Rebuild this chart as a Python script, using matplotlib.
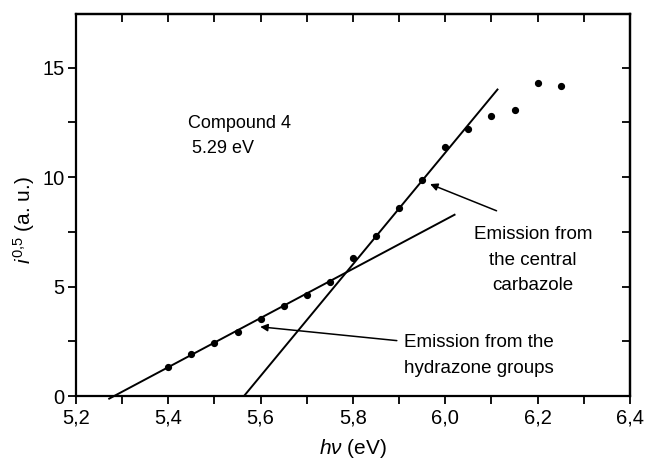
import numpy as np
import matplotlib
matplotlib.use("Agg")
import matplotlib.pyplot as plt
from matplotlib.ticker import MultipleLocator, FuncFormatter

plt.rcParams['font.family'] = ['Liberation Sans', 'DejaVu Sans']
plt.rcParams['mathtext.fontset'] = 'custom'
plt.rcParams['mathtext.rm'] = 'Liberation Sans'
plt.rcParams['mathtext.it'] = 'Liberation Sans:italic'

# measured points
energy = [5.40, 5.45, 5.50, 5.55, 5.60, 5.65, 5.70, 5.75, 5.80,
          5.85, 5.90, 5.95, 6.00, 6.05, 6.10, 6.15, 6.20, 6.25]
signal = [1.31, 1.90, 2.41, 2.91, 3.50, 4.10, 4.60, 5.19, 6.29,
          7.29, 8.58, 9.86, 11.37, 12.18, 12.77, 13.07, 14.28, 14.16]

# the two fitted straight lines (end points)
fit_hyd_x = [5.272, 6.02]
fit_hyd_y = [-0.12, 8.28]
fit_carb_x = [5.564, 6.113]
fit_carb_y = [0.0, 14.0]

fig = plt.figure(figsize=(6.46, 4.63), dpi=100)
ax = fig.add_axes([0.1176, 0.1447, 0.8576, 0.8251])

ax.plot(energy, signal, 'o', color='black', markersize=4.2, zorder=3)
ax.plot(fit_hyd_x, fit_hyd_y, '-', color='black', lw=1.4, clip_on=False)
ax.plot(fit_carb_x, fit_carb_y, '-', color='black', lw=1.4)

ax.set_xlim(5.2, 6.4)
ax.set_ylim(0, 17.45)

ax.xaxis.set_major_locator(MultipleLocator(0.2))
ax.xaxis.set_minor_locator(MultipleLocator(0.1))
ax.yaxis.set_major_locator(MultipleLocator(5))
ax.yaxis.set_minor_locator(MultipleLocator(2.5))
ax.xaxis.set_major_formatter(FuncFormatter(lambda v, p: ('%.1f' % v).replace('.', ',')))
ax.yaxis.set_major_formatter(FuncFormatter(lambda v, p: '%d' % v))

for s in ax.spines.values():
    s.set_linewidth(1.6)
ax.tick_params(which='both', direction='out', length=6, width=1.3,
               labelsize=14.5, top=False, right=False)
ax.tick_params(axis='x', pad=3)
ax.tick_params(axis='y', pad=2)
# inward ticks on top and right
axt = ax.secondary_xaxis('top')
axt.xaxis.set_major_locator(MultipleLocator(0.1))
axt.tick_params(direction='in', length=6, width=1.3, labeltop=False)
axt.spines['top'].set_linewidth(1.6)
axr = ax.secondary_yaxis('right')
axr.yaxis.set_major_locator(MultipleLocator(2.5))
axr.tick_params(direction='in', length=6, width=1.3, labelright=False)
axr.spines['right'].set_linewidth(1.6)

ax.set_xlabel(r'$h\nu$ (eV)', fontsize=15, labelpad=7)
ax.set_ylabel(r'$i^{0{,}5}$ (a. u.)', fontsize=15)
ax.yaxis.set_label_coords(-0.07, 0.46)

ax.text(5.443, 12.47, 'Compound 4', fontsize=13, ha='left', va='center')
ax.text(5.452, 11.32, '5.29 eV', fontsize=13, ha='left', va='center')

ax.text(6.19, 6.21, 'Emission from\nthe central\ncarbazole', fontsize=13.5,
        ha='center', va='center', multialignment='center', linespacing=1.68)
ax.text(6.073, 1.85, 'Emission from the\nhydrazone groups', fontsize=13.5,
        ha='center', va='center', multialignment='center', linespacing=1.68)

arrow = dict(arrowstyle='-|>', color='black', lw=1.1, mutation_scale=11,
             shrinkA=0, shrinkB=0)
ax.annotate('', xy=(5.967, 9.68), xytext=(6.111, 8.46), arrowprops=arrow)
ax.annotate('', xy=(5.599, 3.16), xytext=(5.895, 2.53), arrowprops=arrow)

fig.savefig('out.png', dpi=100)
